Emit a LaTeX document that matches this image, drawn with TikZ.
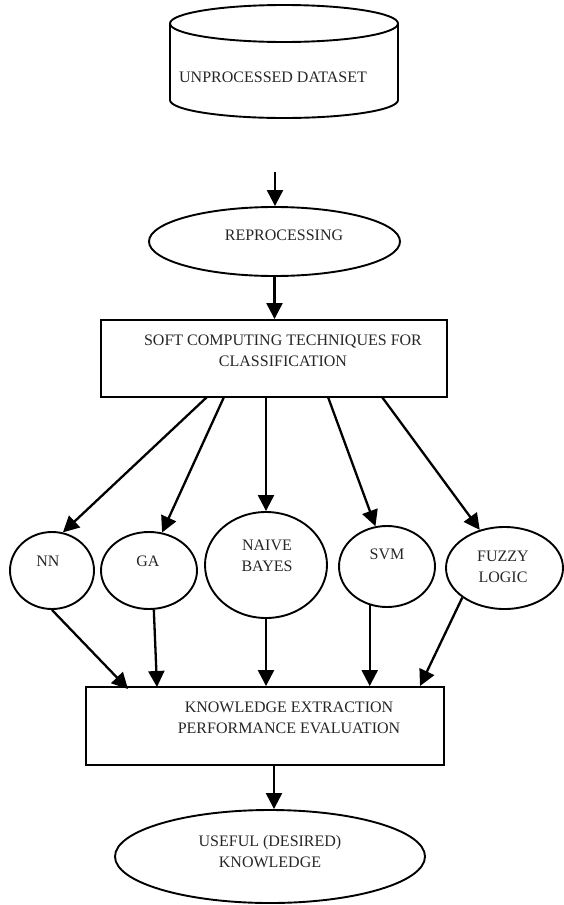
\documentclass[tikz,border=0pt]{standalone}
\usepackage{fontspec}
\setmainfont{Liberation Serif}
\usetikzlibrary{arrows.meta,shapes.geometric}
\begin{document}
\begin{tikzpicture}[x=1pt,y=-1pt,
  shp/.style={draw=black,line width=1.9pt,inner sep=0pt},
  oval/.style={shp,ellipse},
  boxr/.style={shp,rectangle},
  lbl/.style={font=\fontsize{16}{21}\selectfont,text=black!85,align=center,inner sep=0pt},
  arr/.style={line width=2.3pt,-{Triangle[length=16pt,width=16pt]}}]
\useasboundingbox (0,0) rectangle (563,905);

% cylinder
\node[oval,minimum width=228pt,minimum height=37pt] (cyltop) at (284,23.5) {};
\draw[line width=1.9pt] (170,23.5) -- (170,100)
  .. controls (170,109.94) and (221.04,118) .. (284,118)
  .. controls (346.96,118) and (398,109.94) .. (398,100) -- (398,23.5);
\node[lbl] (dtxt) at (273,77) {UNPROCESSED DATASET};

% reprocessing
\coordinate (c0) at (275,172);
\node[oval,minimum width=251pt,minimum height=69pt] (rep) at (274.5,241.5) {};
\node[lbl] (reptxt) at (284,235) {REPROCESSING};
\draw[arr] (c0) -- (c0 |- rep.north);

% soft computing box
\node[boxr,minimum width=346pt,minimum height=77pt] (soft) at (274,358.5) {};
\node[lbl] (softtxt) at (283,350.5) {SOFT COMPUTING TECHNIQUES FOR\\CLASSIFICATION};
\draw[arr] (rep.south) -- (rep.south |- soft.north);

% techniques
\node[oval,minimum width=84pt,minimum height=77pt] (nn) at (52,570.5) {};
\node[lbl] (nntxt) at (48,561) {NN};
\node[oval,minimum width=96pt,minimum height=77pt] (ga) at (149,570.5) {};
\node[lbl] (gatxt) at (148,561) {GA};
\node[oval,minimum width=122pt,minimum height=106pt] (nb) at (266,565) {};
\node[lbl] (nbtxt) at (267,555.5) {NAIVE\\BAYES};
\node[oval,minimum width=96pt,minimum height=81pt] (svm) at (387,566.5) {};
\node[lbl] (svmtxt) at (387,554) {SVM};
\node[oval,minimum width=117pt,minimum height=82pt] (fz) at (504.5,568) {};
\node[lbl] (fztxt) at (503,566.5) {FUZZY\\LOGIC};

\coordinate (s1) at (207,397);
\coordinate (s2) at (224,397);
\coordinate (s3) at (266,397);
\coordinate (s4) at (328,397);
\coordinate (s5) at (382,397);
\draw[arr] (s1) -- (nn.74);
\draw[arr] (s2) -- (ga.71);
\draw[arr] (s3) -- (nb.north);
\draw[arr] (s4) -- (svm.106);
\draw[arr] (s5) -- (fz.123);

% knowledge extraction box
\node[boxr,minimum width=358pt,minimum height=78pt] (ke) at (265,726) {};
\node[lbl] (ketxt) at (289,717.5) {KNOWLEDGE EXTRACTION\\PERFORMANCE EVALUATION};

\coordinate (k1) at (128,689);
\coordinate (k2) at (157,687);
\coordinate (k5) at (420,686);
\draw[arr] (nn.south) -- (k1);
\draw[arr] (ga.277) -- (k2);
\draw[arr] (nb.south) -- (nb.south |- ke.north);
\draw[arr] (svm.246) -- (svm.246 |- ke.north);
\draw[arr] (fz.215) -- (k5);

% useful knowledge
\node[oval,minimum width=310pt,minimum height=93pt] (use) at (270,856.5) {};
\node[lbl] (usetxt) at (270,852) {USEFUL (DESIRED)\\KNOWLEDGE};
\coordinate (c6) at (274,765);
\draw[arr] (c6) -- (c6 |- use.north);
\end{tikzpicture}
\end{document}
